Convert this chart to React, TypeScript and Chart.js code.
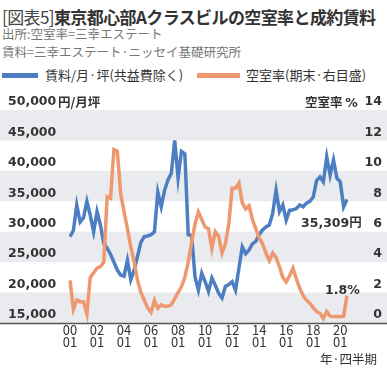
import React, { useEffect, useRef } from "react";
import { Chart, registerables } from "chart.js";

Chart.register(...registerables);

// quarterly, 2000Q1 .. 2020Q3
const categories: string[] = [];
for (let y = 2000; y <= 2020; y++) {
  for (let q = 1; q <= 4; q++) {
    if (y === 2020 && q > 3) break;
    categories.push(`${y}Q${q}`);
  }
}

const rentValues = [
  29200, 30200, 34400, 31600, 32300, 35000, 32700, 30000, 33300, 31100,
  28100, 27300, 26300, 25000, 23700, 22900, 22700, 25300, 22100, 23700,
  26000, 28300, 29200, 29300, 29500, 30000, 36500, 34100, 36800, 38500,
  39600, 45000, 38800, 43200, 42800, 29500, 29400, 22600, 20400, 23200,
  21800, 20200, 22400, 21200, 19900, 19100, 21000, 21300, 21800, 20400,
  24000, 27500, 26400, 27000, 28000, 28400, 29500, 30300, 30800, 31100,
  33000, 36800, 33300, 34400, 31900, 33500, 33600, 33800, 34400, 34100,
  34700, 35000, 35700, 38400, 39000, 38200, 42300, 39300, 41800, 38800,
  38200, 34100, 35309,
];

const vacancyValues = [
  2.8, 0.9, 1.5, 1.4, 1.4, 0.6, 3.0, 3.3, 3.6, 3.7,
  4.0, 8.3, 8.2, 11.4, 11.3, 8.5, 7.3, 6.2, 5.0, 4.0,
  2.8, 2.0, 1.5, 1.0, 0.7, 1.5, 0.96, 1.2, 1.1, 1.1,
  1.2, 1.6, 2.0, 2.4, 3.0, 4.0, 5.3, 6.5, 7.3, 6.8,
  6.3, 6.2, 4.9, 6.0, 5.7, 4.6, 5.2, 6.5, 8.85, 8.85,
  9.2, 7.9, 7.5, 7.7, 6.8, 6.2, 5.6, 5.2, 4.6, 4.1,
  4.6, 4.3, 3.7, 3.0, 2.7, 3.1, 3.6, 2.9, 2.3, 1.8,
  1.5, 1.3, 1.0, 0.75, 0.64, 0.3, 0.75, 0.45, 0.42, 0.42,
  0.42, 0.45, 1.8,
];

// x tick labels: year (2-digit) over quarter, every 8 quarters
const xTickYears = ["00", "02", "04", "06", "08", "10", "12", "14", "16", "18", "20"];
const xTickQuarter = "01";

const BLUE = "#4d7ec2";
const ORANGE = "#ef9870";
const BAND = "#e9ebee";
const TEXT = "#333333";
const NUM_FONT = "'DejaVu Sans', sans-serif";
const JP_FONT = "'Noto Sans CJK JP', sans-serif";

const bandsPlugin = {
  id: "bands",
  beforeDraw(chart: any) {
    const { ctx, chartArea, scales, width } = chart;
    const y = scales.y;
    ctx.save();
    let k = 0;
    for (let v = 50000; v > 15000; v -= 5000) {
      if (k % 2 === 0) {
        const top = y.getPixelForValue(v);
        const bot = y.getPixelForValue(v - 5000);
        ctx.fillStyle = BAND;
        ctx.fillRect(0, top, width, bot - top);
      }
      k++;
    }
    ctx.restore();
  },
  afterDatasetsDraw(chart: any) {
    const { ctx, chartArea, width } = chart;
    ctx.save();
    ctx.strokeStyle = "#555555";
    ctx.lineWidth = 1.5;
    ctx.beginPath();
    ctx.moveTo(0, chartArea.bottom + 0.5);
    ctx.lineTo(width, chartArea.bottom + 0.5);
    ctx.stroke();
    ctx.restore();
  },
};

function ChartCanvas() {
  const ref = useRef<HTMLCanvasElement | null>(null);
  useEffect(() => {
    if (!ref.current) return;
    const chart = new Chart(ref.current, {
      type: "line",
      data: {
        labels: categories,
        datasets: [
          {
            label: "賃料/月·坪(共益費除く)",
            data: rentValues,
            borderColor: BLUE,
            borderWidth: 3.5,
            pointRadius: 0,
            yAxisID: "y",
            order: 2,
            borderJoinStyle: "miter",
          },
          {
            label: "空室率(期末·右目盛)",
            data: vacancyValues,
            borderColor: ORANGE,
            borderWidth: 3.5,
            pointRadius: 0,
            yAxisID: "y1",
            order: 1,
            borderJoinStyle: "miter",
          },
        ],
      },
      options: {
        responsive: false,
        animation: false,
        layout: { padding: { left: 8, right: 5, top: 20, bottom: 0 } },
        plugins: { legend: { display: false }, tooltip: { enabled: false } },
        scales: {
          x: {
            type: "category",
            offset: false,
            grid: { display: false, drawTicks: false },
            border: { display: false },
            ticks: {
              autoSkip: false,
              maxRotation: 0,
              minRotation: 0,
              padding: 2,
              color: TEXT,
              font: { family: JP_FONT, size: 13, lineHeight: 0.85 },
              callback: (_v: any, i: number) =>
                i % 8 === 0 ? [xTickYears[i / 8], xTickQuarter] : "",
            },
            afterFit: (s: any) => {
              s.height = 27;
            },
          },
          y: {
            position: "left",
            min: 15000,
            max: 50000,
            grid: { display: false, drawTicks: false },
            border: { display: false },
            ticks: {
              stepSize: 5000,
              crossAlign: "far",
              labelOffset: -8,
              color: TEXT,
              font: { family: NUM_FONT, size: 12.5, weight: "bold" },
              callback: (v: any) => Number(v).toLocaleString("en-US"),
            },
            afterFit: (s: any) => {
              s.width = 62;
            },
          },
          y1: {
            position: "right",
            min: 0,
            max: 14,
            grid: { display: false, drawTicks: false },
            border: { display: false },
            ticks: {
              stepSize: 2,
              crossAlign: "far",
              labelOffset: -8,
              color: TEXT,
              font: { family: NUM_FONT, size: 12.5, weight: "bold" },
            },
            afterFit: (s: any) => {
              s.width = 35;
            },
          },
        },
      },
      plugins: [bandsPlugin],
    } as any);
    return () => chart.destroy();
  }, []);
  return (
    <canvas
      ref={ref}
      width={387}
      height={260}
      style={{ position: "absolute", left: 0, top: 90, width: 387, height: 260 }}
    />
  );
}

export default function App() {
  const abs = (o: any): React.CSSProperties => ({ position: "absolute", whiteSpace: "nowrap", ...o });
  return (
    <div style={{ position: "absolute", left: 0, top: 0, width: 387, height: 377, background: "#fff", overflow: "hidden", fontFamily: JP_FONT, color: TEXT }}>
      <div style={abs({ left: 2, top: 3, fontSize: 17, lineHeight: "28px", letterSpacing: -0.6 })}>
        <span style={{ fontWeight: 400, color: "#444" }}>[図表5]</span>
        <span style={{ fontWeight: 700 }}>東京都心部Aクラスビルの空室率と成約賃料</span>
      </div>
      <div style={abs({ left: 2, top: 25, fontSize: 12.5, lineHeight: "18px", color: "#777" })}>出所:空室率=三幸エステート</div>
      <div style={abs({ left: 2, top: 43, fontSize: 12.5, lineHeight: "18px", color: "#777" })}>賃料=三幸エステート·ニッセイ基礎研究所</div>
      <div style={abs({ left: 2, top: 73, width: 36, height: 5, background: BLUE })} />
      <div style={abs({ left: 45, top: 66, fontSize: 13, lineHeight: "18px" })}>賃料/月·坪(共益費除く)</div>
      <div style={abs({ left: 197, top: 73, width: 43, height: 5, background: ORANGE })} />
      <div style={abs({ left: 246, top: 66, fontSize: 13, lineHeight: "18px" })}>空室率(期末·右目盛)</div>
      <ChartCanvas />
      <div style={abs({ left: 58, top: 93, fontSize: 12.5, lineHeight: "18px", fontWeight: 700 })}>円/月坪</div>
      <div style={abs({ left: 305, top: 93, fontSize: 12.5, lineHeight: "18px", fontWeight: 700 })}>
        空室率 <span style={{ fontFamily: NUM_FONT }}>%</span>
      </div>
      <div style={abs({ left: 301, top: 213, fontSize: 12.5, lineHeight: "18px", fontWeight: 700 })}>
        <span style={{ fontFamily: NUM_FONT }}>35,309</span>円
      </div>
      <div style={abs({ left: 325, top: 281, fontSize: 12.5, lineHeight: "18px", fontWeight: 700, fontFamily: NUM_FONT })}>1.8%</div>
      <div style={abs({ left: 320, top: 350, fontSize: 12.5, lineHeight: "18px" })}>年·四半期</div>
    </div>
  );
}
